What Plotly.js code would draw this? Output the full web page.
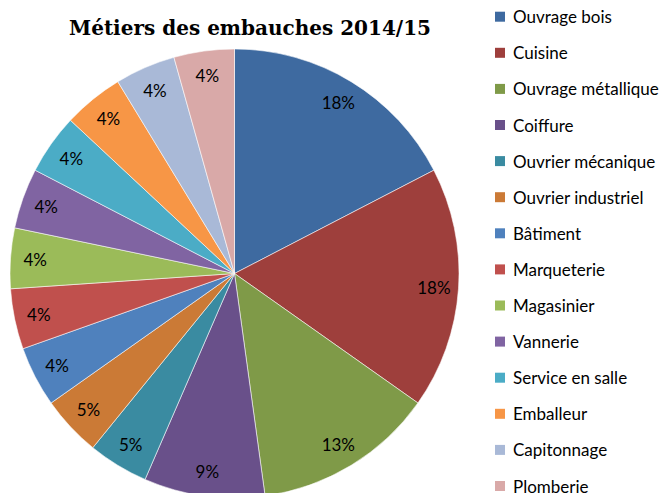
<!DOCTYPE html>
<html><head><meta charset="utf-8">
<script src="https://cdn.plot.ly/plotly-3.0.1.min.js"></script>
<style>html,body{margin:0;padding:0;overflow:hidden;background:#fff;width:663px;height:493px}</style>
</head><body><div id="chart" style="width:663px;height:498px"></div>
<script>
const categories = ["Ouvrage bois","Cuisine","Ouvrage métallique","Coiffure","Ouvrier mécanique","Ouvrier industriel","Bâtiment","Marqueterie","Magasinier","Vannerie","Service en salle","Emballeur","Capitonnage","Plomberie"];
const counts = [4,4,3,2,1,1,1,1,1,1,1,1,1,1];
const pctLabels = ["18%","18%","13%","9%","5%","5%","4%","4%","4%","4%","4%","4%","4%","4%"];
const colors = ["#3E6AA0","#9E3F3C","#7F9A48","#69508A","#3A8BA1","#CB7A36","#4F81BD","#C0504D","#9BBB59","#8064A2","#4BACC6","#F79646","#A9B9D7","#D9A9A8"];

const W = 663, H = 498;
const shapes = [], annotations = [];
const legTop = 16.7, legStep = 36.1;
categories.forEach((c, i) => {
  const cy = legTop + i * legStep;
  shapes.push({type:'rect', xref:'paper', yref:'paper',
    x0: 495/W, x1: 505/W, y0: (H-(cy-5))/H, y1: (H-(cy+5))/H,
    fillcolor: colors[i], line:{width:0}});
  annotations.push({xref:'paper', yref:'paper', x: 511/W, y: (H-cy)/H,
    xanchor:'left', yanchor:'middle', text: c, showarrow:false,
    font:{family:'Lato, Carlito, sans-serif', size:17, color:'#000'}});
});

const dom = {x:[10/W, 459/W], y:[0, 449/H]};
const pie = {
  type:'pie', labels: categories, values: counts,
  textinfo:'none', sort:false, direction:'clockwise', rotation:0,
  marker:{colors: colors, line:{color:'rgba(255,255,255,0.7)', width:0.8}},
  domain: dom, showlegend:false, hoverinfo:'label'
};
const labelRing = {
  type:'pie', labels: categories, values: counts, text: pctLabels, hole:0.78,
  textinfo:'text', textposition:'inside', insidetextorientation:'horizontal',
  sort:false, direction:'clockwise', rotation:0,
  marker:{colors: categories.map(() => 'rgba(0,0,0,0)'), line:{width:0}},
  textfont:{family:'Lato, Carlito, sans-serif', size:17, color:'#000'},
  domain: dom, showlegend:false, hoverinfo:'skip'
};

const layout = {
  width: W, height: H,
  margin:{l:0,r:0,t:0,b:0},
  paper_bgcolor:'#fff',
  title:{text:'<b>Métiers des embauches 2014/15</b>', x:250/W, xanchor:'center', y:1-28/H, yanchor:'middle',
    font:{family:'"DejaVu Serif", "Liberation Serif", serif', size:20, color:'#000'}},
  shapes: shapes, annotations: annotations,
  uniformtext:{mode:'show', minsize:17}
};
Plotly.newPlot('chart', [pie, labelRing], layout, {displayModeBar:false, staticPlot:true});
</script></body></html>
